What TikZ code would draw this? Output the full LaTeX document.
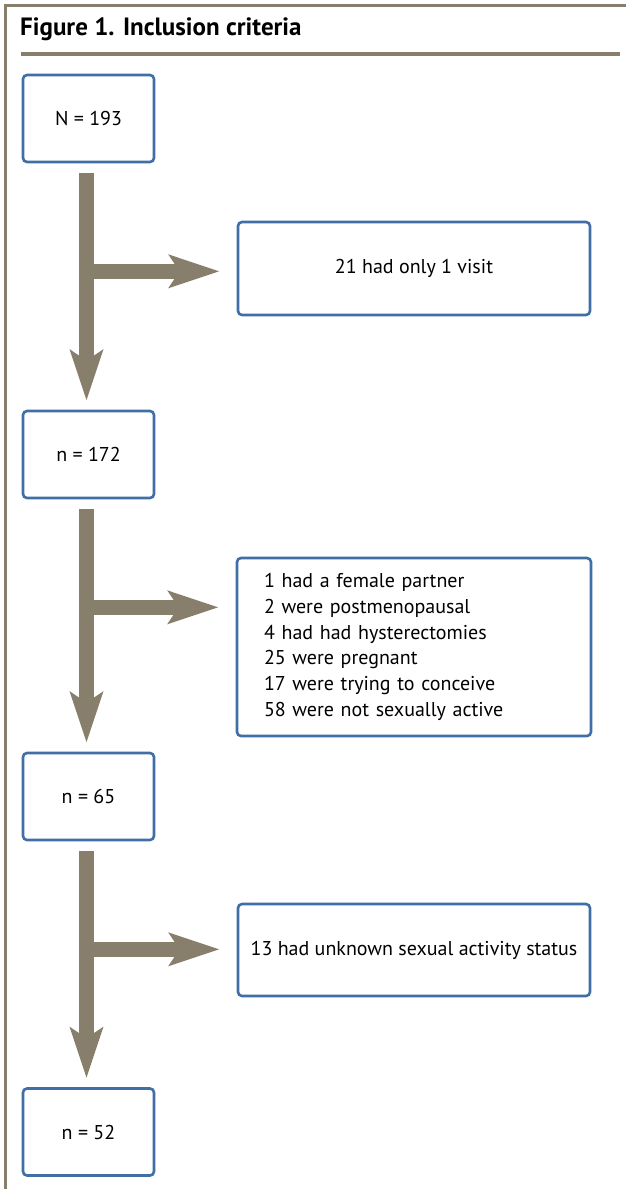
\documentclass[tikz,border=0pt]{standalone}
\usepackage{fontspec}
\setmainfont{PT Sans}
\usetikzlibrary{calc}
\usetikzlibrary{arrows.meta}
\definecolor{boxblue}{RGB}{64,110,165}
\definecolor{taupe}{RGB}{135,126,108}
\tikzset{
  countbox/.style={draw=boxblue, line width=2.6pt, rounded corners=4pt, minimum width=131pt, minimum height=87pt, inner sep=0pt, font=\fontsize{20}{25.8}\selectfont},
  exclbox/.style={countbox, minimum width=352pt, minimum height=93pt},
  flow/.style={draw=taupe, line width=15pt, -{Stealth[length=50pt,width=32pt,inset=10pt]}},
}
\begin{document}
\begin{tikzpicture}[x=1pt,y=-1pt]
\useasboundingbox (0,0) rectangle (626,1189);
% frame and title
\draw[taupe, line width=3pt] (5.5,1189) -- (5.5,5.5) -- (626,5.5);
\node (title) at (20,29) [anchor=west, inner sep=0pt, font=\bfseries\fontsize{25}{28}\selectfont] {Figure 1. Inclusion criteria};
\draw[taupe, line width=4pt] (21,54) -- (620,54);
% counts
\node (n0) at (88.5,118.5) [countbox] {N = 193};
\node (n1) at (88.5,454.5) [countbox] {n = 172};
\node (n2) at (88.5,796.5) [countbox] {n = 65};
\node (n3) at (88.5,1132) [countbox] {n = 52};
% exclusions
\node (x1) at (414,268.5) [exclbox] {21 had only 1 visit};
\node (x2) at (414,647) [exclbox, minimum width=354pt, minimum height=178pt, text width=300pt, align=left] {1 had a female partner\\2 were postmenopausal\\4 had had hysterectomies\\25 were pregnant\\17 were trying to conceive\\58 were not sexually active};
\node (x3) at (414,950) [exclbox, minimum height=92pt] {13 had unknown sexual activity status};
\foreach \a/\b in {0/1,1/2,2/3} {
\coordinate (b\b) at ($(n\a.south)+(-2,108)$);
\draw[flow] ($(n\a.south)+(-2,10)$) -- ($(n\b.north)+(-2,-9)$);
\draw[flow] (b\b) -- ($(b\b -| x\b.west)+(-17,0)$);
}
\end{tikzpicture}
\end{document}
